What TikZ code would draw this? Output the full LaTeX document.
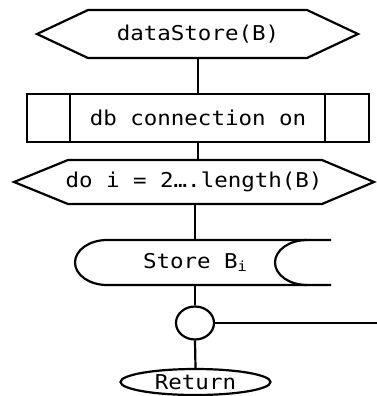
\documentclass[tikz,border=0pt]{standalone}
\usepackage{fontspec}
\setmonofont[FakeStretch=1.1]{DejaVu Sans Mono}
\usetikzlibrary{shapes.geometric}
\begin{document}
\begin{tikzpicture}[x=1bp, y=-1bp,
  line width=2.2bp, line join=miter,
  lbl/.style={inner sep=0pt, font=\ttfamily\fontsize{20.5}{24}\selectfont, text=black},
  junction/.style={ellipse, draw, inner sep=0pt, minimum width=38bp, minimum height=33bp},
  terminal/.style={ellipse, draw, lbl, minimum width=150bp, minimum height=26bp}]
  \fill[white] (0,0) rectangle (377,396);
  \useasboundingbox (0,0) rectangle (377,396);

  % procedure entry (preparation hexagon)
  \draw (37,34) -- (88,10) -- (307,10) -- (358,34) -- (307,58) -- (88,58) -- cycle;
  \node[lbl, minimum width=321bp, minimum height=48bp] (ds) at (198,34) {dataStore(B)};

  % predefined process
  \draw (27,94) rectangle (369,142);
  \draw (70,94) -- (70,142) (325,94) -- (325,142);
  \node[lbl, minimum width=342bp, minimum height=48bp] (db) at (198,118) {db connection on};

  % loop header
  \draw (14,182) -- (68,160) -- (322,160) -- (374,182) -- (322,204) -- (68,204) -- cycle;
  \node[lbl, minimum width=360bp, minimum height=44bp] (loop) at (194,182) {do i = 2….length(B)};

  % stored data
  \draw (331,240) -- (107,240) arc[start angle=270, end angle=90, x radius=32, y radius=22.5] -- (331,285);
  \draw (307,240) arc[start angle=270, end angle=90, x radius=32, y radius=22.5];
  \node[lbl, minimum height=45bp] (st) at (195,262.5)
    {Store B\raisebox{-0.3ex}{\fontsize{14}{14}\selectfont i}};

  % loop junction and return
  \node[junction] (j) at (195,323) {};
  \coordinate (back) at (377,323);
  \node[terminal] (ret) at (195.5,382) {Return};

  % connectors
  \draw (ds.south) -- (ds.south |- db.north);
  \draw (db.south) -- (db.south |- loop.north);
  \draw (loop.south -| st.north) -- (st.north);
  \draw (st.south) -- (j.north);
  \draw (j.east) -- (back);
  \draw (j.south) -- (ret.north);
\end{tikzpicture}
\end{document}
